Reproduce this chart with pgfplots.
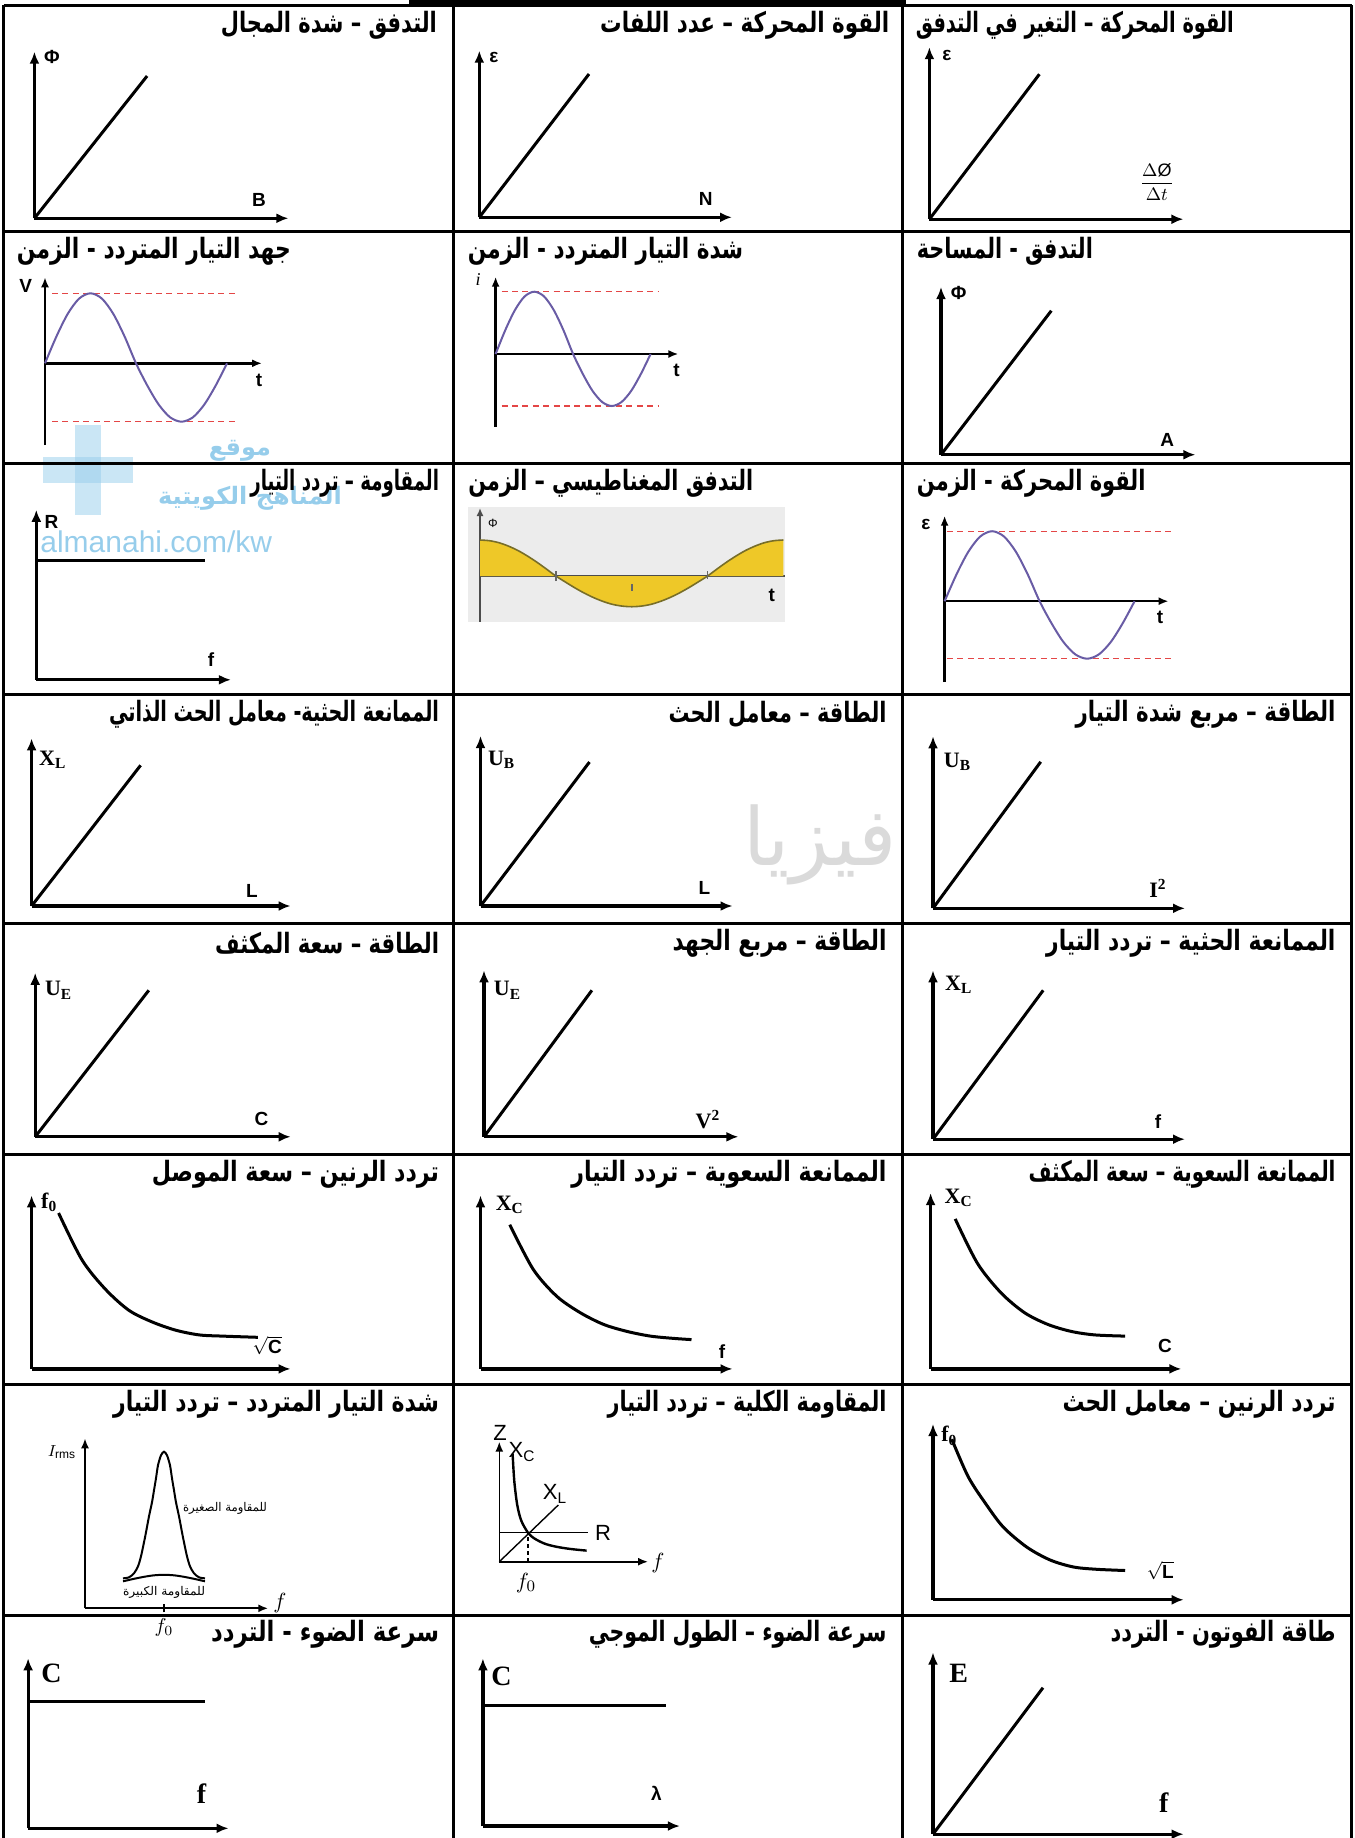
\documentclass[border=0pt]{standalone}
\usepackage{graphicx}
\usepackage{pgfplots}
\pgfplotsset{compat=1.18}
\usepackage{pgfplotstable}
\usepackage{fontspec}
\setmainfont{Liberation Sans}
\newfontfamily\serifb{Liberation Serif}
\newfontfamily\arabicfont[Script=Arabic]{DejaVu Sans}
\usetikzlibrary{arrows.meta}
\TeXXeTstate=1
\definecolor{sinecol}{RGB}{105,92,165}
\definecolor{dashred}{RGB}{228,70,70}
\definecolor{yel}{RGB}{238,200,40}
\definecolor{yeledge}{RGB}{120,110,40}
\definecolor{wmblue}{RGB}{150,205,235}
\definecolor{wmgray}{RGB}{218,218,218}
\definecolor{imgbg}{RGB}{236,236,236}

\pgfplotstableread{
x y
0 36
9.48 35.3
18.96 33.3
28.44 29.9
37.93 25.5
47.41 20.0
56.89 13.8
66.37 7.0
75.85 0
85.33 -6.0
94.81 -11.8
104.3 -17.1
113.8 -21.7
123.3 -25.5
132.7 -28.4
142.2 -30.1
151.7 -30.7
161.2 -30.1
170.7 -28.4
180.1 -25.5
189.6 -21.7
199.1 -17.1
208.6 -11.8
218.1 -6.0
227.6 0
237.0 7.0
246.5 13.8
256.0 20.0
265.5 25.5
275.0 29.9
284.4 33.3
293.9 35.3
303.4 36
}\costab

\pgfplotsset{
 mini/.style={anchor=origin, x=0.5pt, y=0.5pt, xmin=0, ymin=0, axis lines=left, ticks=none, clip=false, enlargelimits=false,
   axis line style={line width=1.6pt, -{Latex[length=6pt,width=5pt]}}},
 curve/.style={line width=1.5pt, black},
 sineax/.style={anchor=origin, x=0.5pt, y=0.5pt, axis lines=middle, ticks=none, clip=false, enlargelimits=false, xmin=0,
   axis line style={line width=1.2pt, -{Latex[length=5pt,width=4pt]}}},
 sinecurve/.style={sinecol, line width=1pt, smooth},
 dashline/.style={dashred, line width=0.7pt, dash pattern=on 3pt off 2.2pt},
}

\newcommand\linplot[6]{%
\begin{axis}[mini, at={(#1*0.5pt,-#2*0.5pt)}, xmax=#3, ymax=#4]
\addplot[curve] coordinates {(0,0) (#5,#6)};
\end{axis}}

\newcommand\titlefont{\arabicfont\bfseries\fontsize{14}{16}\selectfont}
\newcommand\ttl[4]{\node[anchor=east, font=\titlefont, inner sep=0pt] at (#1,#2) {\resizebox{#3pt}{\height}{#4}};}
\newcommand\ttlL[4]{\node[anchor=west, font=\titlefont, inner sep=0pt] at (#1,#2) {\resizebox{#3pt}{\height}{#4}};}

\tikzset{
 lab/.style={font=\bfseries\fontsize{9.5}{11}\selectfont, inner sep=0pt},
 slab/.style={font=\serifb\bfseries\fontsize{11}{13}\selectfont, inner sep=0pt},
 blab/.style={font=\serifb\bfseries\fontsize{14}{16}\selectfont, inner sep=0pt},
}

\begin{document}
\begin{tikzpicture}
\useasboundingbox (0,0) rectangle (677.5pt,-919pt);
\begin{scope}[x=0.5pt,y=-0.5pt]
% watermark
\fill[wmblue, opacity=0.5] (75,425) rectangle (101,515);
\fill[wmblue, opacity=0.5] (43,457) rectangle (133,483);
\node[text=wmblue, font=\arabicfont\bfseries\fontsize{12}{14}\selectfont] at (240,451) {\beginR موقع\endR};
\node[text=wmblue, font=\arabicfont\bfseries\fontsize{12}{14}\selectfont] at (250,498) {\beginR المناهج الكويتية\endR};
\node[text=wmblue, font=\fontsize{15}{17}\selectfont, anchor=west, inner sep=0pt] at (40,542) {almanahi.com/kw};
\node[text=wmgray, font=\arabicfont\fontsize{40}{44}\selectfont] at (820,845) {\beginR فيزيا\endR};
% image backgrounds
\fill[imgbg] (468,507) rectangle (785,621.7);
% grid
\fill (409,0) rectangle (906,7);
\foreach \yy in {5,231,463,694,923,1154,1384,1615} {\draw[line width=1.5pt] (3.5,\yy) -- (1351.5,\yy);}
\foreach \xx in {3.5,453.6,902.6,1351.5} {\draw[line width=1.5pt] (\xx,5) -- (\xx,1840);}
% titles
\ttl{437.3}{25}{108}{\beginR التدفق – شدة المجال\endR}
\ttl{889.6}{25}{144.5}{\beginR القوة المحركة – عدد اللفات\endR}
\ttlL{915.5}{25}{159}{\beginR القوة المحركة – التغير في التدفق\endR}
\ttl{291.3}{251}{137}{\beginR جهد التيار المتردد - الزمن\endR}
\ttl{743.7}{251}{137.7}{\beginR شدة التيار المتردد - الزمن\endR}
\ttlL{916.5}{251}{88}{\beginR التدفق - المساحة\endR}
\ttl{439.5}{483}{94.4}{\beginR المقاومة – تردد التيار\endR}
\ttl{753.6}{483}{142.4}{\beginR التدفق المغناطيسي – الزمن\endR}
\ttlL{916.5}{483}{114.3}{\beginR القوة المحركة - الزمن\endR}
\ttl{439.5}{714}{165}{\beginR الممانعة الحثية- معامل الحث الذاتي\endR}
\ttl{887}{714}{109}{\beginR الطاقة – معامل الحث\endR}
\ttl{1336}{714}{130}{\beginR الطاقة – مربع شدة التيار\endR}
\ttl{439.5}{943}{112}{\beginR الطاقة – سعة المكثف\endR}
\ttl{887}{943}{107}{\beginR الطاقة – مربع الجهد\endR}
\ttl{1336}{943}{144.7}{\beginR الممانعة الحثية – تردد التيار\endR}
\ttl{439.5}{1174}{143.6}{\beginR تردد الرنين – سعة الموصل\endR}
\ttl{887}{1174}{157.6}{\beginR الممانعة السعوية – تردد التيار\endR}
\ttl{1336}{1174}{153.5}{\beginR الممانعة السعوية – سعة المكثف\endR}
\ttl{439.5}{1404}{163}{\beginR شدة التيار المتردد – تردد التيار\endR}
\ttl{887}{1404}{139.5}{\beginR المقاومة الكلية – تردد التيار\endR}
\ttl{1336}{1404}{136.5}{\beginR تردد الرنين – معامل الحث\endR}
\ttl{439.5}{1634}{114}{\beginR سرعة الضوء - التردد\endR}
\ttl{887}{1634}{148.8}{\beginR سرعة الضوء – الطول الموجي\endR}
\ttl{1336}{1634}{112.5}{\beginR طاقة الفوتون - التردد\endR}
% axis labels
\node[lab] at (52,57) {Φ};
\node[lab] at (259,200) {B};
\node[lab] at (494,57) {ε};
\node[lab] at (705.8,199.3) {N};
\node[lab] at (947,55) {ε};
\node[font=\fontsize{9}{10}\selectfont] at (1156.8,181.7) {$\displaystyle\frac{\Delta\mbox{Ø}}{\Delta t}$};
\node[lab] at (25.7,286) {V};
\node[lab] at (259,380) {t};
\node[font=\serifb\itshape\fontsize{9}{10}\selectfont] at (478,280) {i};
\node[lab] at (676.6,370) {t};
\node[lab] at (958.7,293) {Φ};
\node[lab] at (1167.3,439.5) {A};
\node[lab] at (51.6,521.5) {R};
\node[lab] at (211,659.8) {f};
\node[font=\fontsize{6}{7}\selectfont] at (493,523) {Φ};
\node[lab] at (771.7,595) {t};
\node[lab] at (926,524) {ε};
\node[lab] at (1160,617.6) {t};
\node[slab] at (52.7,759.5) {X\textsubscript{L}};
\node[lab] at (252,890.7) {L};
\node[slab] at (501.6,759.5) {U\textsubscript{B}};
\node[lab] at (704.4,888.4) {L};
\node[slab] at (957.5,761.8) {U\textsubscript{B}};
\node[slab] at (1158,888.4) {I\textsuperscript{2}};
\node[slab] at (58.6,990.3) {U\textsubscript{E}};
\node[lab] at (261.4,1119.3) {C};
\node[slab] at (507.5,990.3) {U\textsubscript{E}};
\node[slab] at (708,1119.3) {V\textsuperscript{2}};
\node[slab] at (958.7,984.5) {X\textsubscript{L}};
\node[lab] at (1158,1121.6) {f};
\node[slab] at (49.2,1202.5) {f\textsubscript{0}};
\node[font=\bfseries\fontsize{9.5}{11}\selectfont] at (267.2,1345.5) {$\sqrt{\mbox{\bfseries C}}$};
\node[slab] at (509.8,1204.8) {X\textsubscript{C}};
\node[lab] at (722,1351.3) {f};
\node[slab] at (958.7,1197.8) {X\textsubscript{C}};
\node[lab] at (1165,1345.5) {C};
\node[font=\fontsize{8}{9}\selectfont] at (62,1452) {$I_{\mathrm{rms}}$};
\node[font=\fontsize{11}{12}\selectfont] at (280,1603) {$f$};
\node[font=\fontsize{10}{11}\selectfont] at (164,1627) {$f_0$};
\node[font=\arabicfont\fontsize{6}{7}\selectfont, inner sep=0pt] at (225,1508) {\resizebox{42pt}{\height}{\beginR للمقاومة الصغيرة\endR}};
\node[font=\arabicfont\fontsize{6}{7}\selectfont, inner sep=0pt] at (164,1592) {\resizebox{41pt}{\height}{\beginR للمقاومة الكبيرة\endR}};
\node[font=\fontsize{11}{12}\selectfont] at (500,1433) {Z};
\node[font=\fontsize{11}{12}\selectfont] at (522,1452) {X\textsubscript{C}};
\node[font=\fontsize{11}{12}\selectfont] at (555,1494) {X\textsubscript{L}};
\node[font=\fontsize{11}{12}\selectfont] at (603,1533) {R};
\node[font=\fontsize{11}{12}\selectfont] at (658,1563) {$f$};
\node[font=\fontsize{11}{12}\selectfont] at (526,1583) {$f_0$};
\node[slab] at (949.3,1435.7) {f\textsubscript{0}};
\node[font=\bfseries\fontsize{9.5}{11}\selectfont] at (1160.3,1570.5) {$\sqrt{\mbox{\bfseries L}}$};
\node[blab] at (51.6,1673.6) {C};
\node[blab] at (201.6,1793.2) {f};
\node[blab] at (501.6,1676) {C};
\node[lab] at (656.3,1793.2) {λ};
\node[blab] at (958.7,1673.6) {E};
\node[blab] at (1163.8,1802.5) {f};
\end{scope}

% ---- Row 1
\linplot{34.4}{218.3}{254}{166.6}{112.7}{142.3}
\linplot{479.3}{217.3}{252.7}{166.6}{109.7}{143.3}
\linplot{929.4}{219.2}{254}{172}{110}{145}
% ---- Row 2
\begin{axis}[sineax, at={(45*0.5pt,-363.3*0.5pt)}, xmax=217, ymin=-81.7, ymax=86]
\addplot[dashline] coordinates {(7,70) (191,70)};
\addplot[dashline] coordinates {(7,-58.4) (191,-58.4)};
\addplot[sinecurve] coordinates {(0,0) (11.4,26.8) (22.75,49.5) (34.1,64.7) (45.5,70) (56.9,64.7) (68.25,49.5) (79.6,26.8) (91,0) (102.4,-22.4) (113.75,-41.3) (125.1,-54.0) (136.5,-58.4) (147.9,-54.0) (159.25,-41.3) (170.6,-22.4) (182,0)};
\end{axis}
\begin{axis}[sineax, at={(495.6*0.5pt,-354*0.5pt)}, xmax=182.8, ymin=-72.7, ymax=77.3]
\addplot[dashline] coordinates {(6,62.3) (163.5,62.3)};
\addplot[dashline] coordinates {(6,-52) (163.5,-52)};
\addplot[sinecurve] coordinates {(0,0) (9.69,23.9) (19.38,44.0) (29.06,57.6) (38.75,62.3) (48.44,57.6) (58.13,44.0) (67.81,23.9) (77.5,0) (87.19,-19.9) (96.88,-36.8) (106.56,-48.0) (116.25,-52) (125.94,-48.0) (135.63,-36.8) (145.31,-19.9) (155,0)};
\end{axis}
\linplot{941}{454.7}{254.4}{167.7}{110.3}{144}
% ---- Row 3
\begin{axis}[mini, at={(36.3*0.5pt,-679.8*0.5pt)}, xmax=194.6, ymax=170]
\addplot[curve] coordinates {(0,119.6) (168.8,119.6)};
\end{axis}
\begin{axis}[anchor=origin, x=0.5pt, y=0.5pt, axis lines=middle, ticks=none, clip=false, enlargelimits=false,
  xmin=0, xmax=305, ymin=-45.7, ymax=68,
  axis line style={line width=0.9pt, black!70}, y axis line style={-{Latex[length=4pt,width=3.5pt]}}, x axis line style={-},
  at={(480*0.5pt,-576*0.5pt)}]
\addplot[fill=yel, draw=none] table {\costab} \closedcycle;
\addplot[yeledge, line width=0.8pt, smooth] table {\costab};
\addplot[black!60, line width=0.8pt] coordinates {(75.85,-5) (75.85,5)};
\addplot[black!60, line width=0.8pt] coordinates {(151.7,-8) (151.7,-15)};
\addplot[black!60, line width=0.8pt] coordinates {(227.6,-3) (227.6,5)};
\end{axis}
\begin{axis}[sineax, at={(944.6*0.5pt,-601.2*0.5pt)}, xmax=224, ymin=-80.8, ymax=85.5]
\addplot[dashline] coordinates {(2.4,70) (227,70)};
\addplot[dashline] coordinates {(2.4,-57.5) (227,-57.5)};
\addplot[sinecurve] coordinates {(0,0) (11.88,26.8) (23.75,49.5) (35.63,64.7) (47.5,70) (59.38,64.7) (71.25,49.5) (83.13,26.8) (95,0) (106.88,-22.0) (118.75,-40.7) (130.63,-53.1) (142.5,-57.5) (154.38,-53.1) (166.25,-40.7) (178.13,-22.0) (190,0)};
\end{axis}
% ---- Row 4
\linplot{31.6}{906}{259}{167.6}{109}{140.7}
\linplot{480.5}{906}{252}{170}{109}{144}
\linplot{933}{908.3}{252}{172}{107.7}{146.5}
% ---- Row 5
\linplot{35.2}{1136.8}{255.5}{164}{113.6}{146.5}
\linplot{484}{1136.8}{254.4}{166.4}{107.9}{146.5}
\linplot{933}{1139.2}{252}{168.8}{110.2}{148.9}
% ---- Row 6
\begin{axis}[mini, at={(31.6*0.5pt,-1368.9*0.5pt)}, xmax=259, ymax=173.5]
\addplot[curve, smooth] coordinates {(27,155.9) (50.4,109) (73.8,79.7) (97.3,58.6) (120.7,46.9) (144.2,38.7) (167.6,34) (191,32.8) (226.2,31.6)};
\end{axis}
\begin{axis}[mini, at={(480.5*0.5pt,-1368.9*0.5pt)}, xmax=252, ymax=173.5]
\addplot[curve, smooth] coordinates {(29.3,144.2) (52.7,99.6) (76.2,72.7) (99.6,56.3) (123.1,44.5) (146.5,37.5) (169.9,32.8) (193.4,30.5) (211,29.3)};
\end{axis}
\begin{axis}[mini, at={(930.6*0.5pt,-1368.9*0.5pt)}, xmax=250.8, ymax=175.8]
\addplot[curve, smooth] coordinates {(24.6,150) (46.9,105.5) (70.3,76.2) (93.8,56.3) (117.2,44.5) (140.6,37.5) (164.1,34) (194.6,32.8)};
\end{axis}
% ---- Row 7
\begin{axis}[mini, at={(85*0.5pt,-1608.3*0.5pt)}, xmax=183.3, ymax=170,
  axis line style={line width=1pt, -{Latex[length=5pt,width=4pt]}}]
\addplot[black, line width=1pt, smooth] coordinates {(38,30) (44,31) (49,35) (53,42) (56,52) (59,66) (61,76) (64,92) (67,106) (69,118) (71,130) (73,143) (76,153) (79,156.6) (82,153) (85,143) (87,130) (89,118) (91,106) (94,92) (97,76) (99,66) (102,52) (105,42) (109,35) (114,31) (120,30)};
\addplot[black, line width=1pt, smooth] coordinates {(38,27) (49,29.5) (59,31.5) (69,33) (79,33.5) (89,33) (99,31.5) (109,29.5) (120,27)};
\addplot[black, line width=0.8pt] coordinates {(79,-4) (79,4)};
\end{axis}
\begin{axis}[mini, at={(499.3*0.5pt,-1561.7*0.5pt)}, xmax=148.7, ymax=120,
  axis line style={line width=0.8pt, -{Latex[length=5pt,width=4pt]}}]
\addplot[black, line width=1.2pt, smooth] coordinates {(13.3,108) (15,80.5) (18,56.4) (22,41) (28.7,29) (35,23.3) (45,18.2) (55,15.4) (65,13.6) (75,12.3) (87.3,11.1)};
\addplot[black, line width=0.7pt] coordinates {(0,29) (88.7,29)};
\addplot[black, line width=0.7pt] coordinates {(0,0) (59,56.7)};
\addplot[black, line width=0.7pt, dash pattern=on 2pt off 1.5pt] coordinates {(28.7,0) (28.7,29)};
\end{axis}
\begin{axis}[mini, at={(933*0.5pt,-1599.8*0.5pt)}, xmax=250.7, ymax=175.8]
\addplot[curve, smooth] coordinates {(18.8,160.6) (35.2,123.1) (52.7,96.1) (70.3,72.7) (93.8,52.7) (117.2,39.8) (140.6,32.8) (164.1,30.5) (192.2,29.3)};
\end{axis}
% ---- Row 8
\begin{axis}[mini, at={(28.1*0.5pt,-1828.3*0.5pt)}, xmax=200.4, ymax=170]
\addplot[curve] coordinates {(0,126.6) (177,126.6)};
\end{axis}
\begin{axis}[mini, at={(482.9*0.5pt,-1826*0.5pt)}, xmax=197, ymax=167.6]
\addplot[curve] coordinates {(0,120.7) (182.8,120.7)};
\end{axis}
\linplot{933}{1834.2}{250.7}{181.7}{110}{146.5}
\end{tikzpicture}
\end{document}
